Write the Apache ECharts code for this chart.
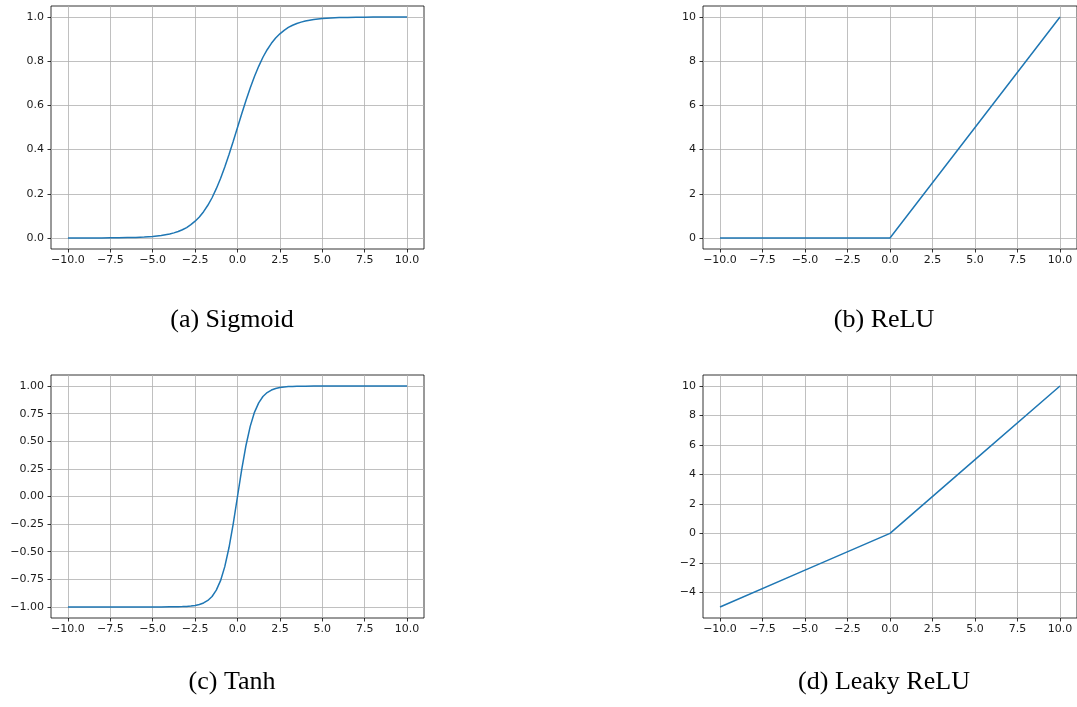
<!DOCTYPE html>
<html>
<head>
<meta charset="utf-8">
<script src="https://cdn.jsdelivr.net/npm/echarts@6/dist/echarts.min.js"></script>
<style>html,body{margin:0;padding:0;background:#fff}#c{width:1077px;height:707px}</style>
</head>
<body>
<div id="c"></div>
<script>
// ---- data ----
const curveX = [-10,-9.5,-9,-8.5,-8,-7.5,-7,-6.5,-6,-5.5,-5,-4.5,-4,-3.75,-3.5,-3.25,-3,-2.75,-2.5,-2.25,-2,-1.75,-1.5,-1.25,-1,-0.75,-0.5,-0.25,0,0.25,0.5,0.75,1,1.25,1.5,1.75,2,2.25,2.5,2.75,3,3.25,3.5,3.75,4,4.5,5,5.5,6,6.5,7,7.5,8,8.5,9,9.5,10];
const sigmoidY = [0.000,0.000,0.000,0.000,0.000,0.001,0.001,0.002,0.002,0.004,0.007,0.011,0.018,0.023,0.029,0.037,0.047,0.060,0.076,0.095,0.119,0.148,0.182,0.223,0.269,0.321,0.378,0.438,0.500,0.562,0.622,0.679,0.731,0.777,0.818,0.852,0.881,0.905,0.924,0.940,0.953,0.963,0.971,0.977,0.982,0.989,0.993,0.996,0.998,0.998,0.999,0.999,1.000,1.000,1.000,1.000,1.000];
const tanhY = [-1.000,-1.000,-1.000,-1.000,-1.000,-1.000,-1.000,-1.000,-1.000,-1.000,-1.000,-1.000,-0.999,-0.999,-0.998,-0.997,-0.995,-0.992,-0.987,-0.978,-0.964,-0.941,-0.905,-0.848,-0.762,-0.635,-0.462,-0.245,0.000,0.245,0.462,0.635,0.762,0.848,0.905,0.941,0.964,0.978,0.987,0.992,0.995,0.997,0.998,0.999,0.999,1.000,1.000,1.000,1.000,1.000,1.000,1.000,1.000,1.000,1.000,1.000,1.000];
const reluX = [-10,-5,0,0.1,5,10];
const reluY = [0,0,0,0.1,5,10];
const leakyX = [-10,-5,0,5,10];
const leakyY = [-5,-2.5,0,5,10];

const xTicks = [-10,-7.5,-5,-2.5,0,2.5,5,7.5,10];
const yTicksA = [0,0.2,0.4,0.6,0.8,1.0];
const yTicksB = [0,2,4,6,8,10];
const yTicksC = [-1,-0.75,-0.5,-0.25,0,0.25,0.5,0.75,1];
const yTicksD = [-4,-2,0,2,4,6,8,10];
const captions = ['(a) Sigmoid','(b) ReLU','(c) Tanh','(d) Leaky ReLU'];

// ---- layout ----
const fmt = (v, d) => (v < 0 ? '\u2212' : '') + Math.abs(v).toFixed(d);
const grids = [
  {left:51, top:6, width:373, height:243},
  {left:703, top:6, width:374, height:243},
  {left:51, top:375, width:373, height:243},
  {left:703, top:375, width:374, height:243}
];
const yRanges = [[-0.05,1.05],[-0.5,10.5],[-1.1,1.1],[-5.75,10.75]];
const yTicks = [yTicksA,yTicksB,yTicksC,yTicksD];
const yDec = [1,0,2,0];
const seriesData = [
  curveX.map((x,i)=>[x,sigmoidY[i]]),
  reluX.map((x,i)=>[x,reluY[i]]),
  curveX.map((x,i)=>[x,tanhY[i]]),
  leakyX.map((x,i)=>[x,leakyY[i]])
];
const capPos = [[232,320],[884,320],[232,682],[884,682]];

const labelStyle = {fontFamily:'DejaVu Sans', fontSize:11, color:'#1a1a1a'};
const tickStyle = {show:true, inside:false, length:3.5, lineStyle:{color:'#000', width:0.8}};
const splitStyle = {show:true, lineStyle:{color:'#b0b0b0', width:0.8}};

const option = {
  animation:false,
  backgroundColor:'#fff',
  grid: grids.map(g => Object.assign({show:true, borderColor:'#000', borderWidth:0.8, backgroundColor:'transparent', containLabel:false}, g)),
  xAxis: grids.map((g,i)=>({
    type:'value', gridIndex:i, min:-11, max:11, position:'bottom',
    axisLine:{show:false, onZero:false},
    axisTick:Object.assign({customValues:xTicks}, tickStyle),
    axisLabel:Object.assign({customValues:xTicks, margin:6, formatter:v=>fmt(v,1)}, labelStyle),
    splitLine:splitStyle
  })),
  yAxis: grids.map((g,i)=>({
    type:'value', gridIndex:i, min:yRanges[i][0], max:yRanges[i][1], position:'left',
    axisLine:{show:false, onZero:false},
    axisTick:Object.assign({customValues:yTicks[i]}, tickStyle),
    axisLabel:Object.assign({customValues:yTicks[i], margin:7, formatter:v=>fmt(v,yDec[i])}, labelStyle),
    splitLine:splitStyle
  })),
  series: seriesData.map((d,i)=>({
    type:'line', xAxisIndex:i, yAxisIndex:i, data:d, showSymbol:false, symbol:'none',
    lineStyle:{color:'#1f77b4', width:1.5}, itemStyle:{color:'#1f77b4'}, z:3
  })),
  graphic: captions.map((t,i)=>({
    type:'text', x:capPos[i][0], y:capPos[i][1],
    style:{text:t, font:'26px "Liberation Serif"', fill:'#000', textAlign:'center', textVerticalAlign:'middle'}
  }))
};
const chart = echarts.init(document.getElementById('c'), null, {renderer:'canvas'});
chart.setOption(option);
</script>
</body>
</html>
